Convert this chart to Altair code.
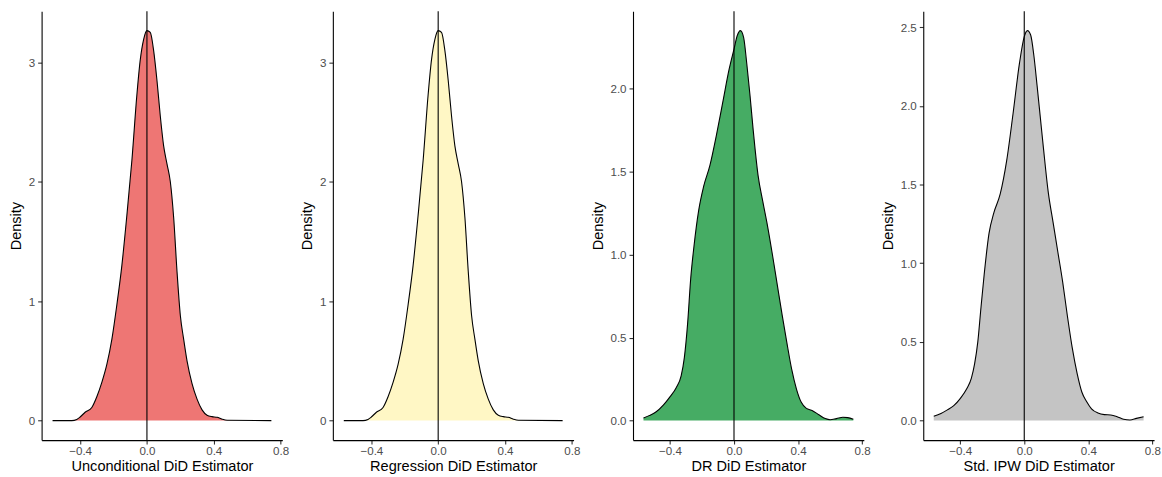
import altair as alt
import pandas as pd

# Kernel density estimates of each DiD estimator (x grid and density height)
unc_x = [-0.565, -0.45, -0.42, -0.40, -0.37, -0.33, -0.30, -0.27, -0.24, -0.21, -0.18,
         -0.15, -0.12, -0.09, -0.06, -0.04, -0.02, 0.00, 0.02, 0.04, 0.06, 0.08, 0.10,
         0.12, 0.14, 0.16, 0.18, 0.20, 0.22, 0.24, 0.27, 0.30, 0.33, 0.36, 0.39, 0.42,
         0.45, 0.48, 0.745]
unc_d = [0.0, 0.0, 0.01, 0.03, 0.07, 0.11, 0.20, 0.32, 0.47, 0.68, 0.97, 1.30, 1.72,
         2.18, 2.73, 3.02, 3.19, 3.265, 3.25, 3.10, 2.85, 2.55, 2.30, 2.15, 2.00, 1.70,
         1.25, 0.88, 0.68, 0.50, 0.31, 0.18, 0.09, 0.045, 0.033, 0.028, 0.012, 0.003, 0.0]

reg_x = [-0.565, -0.45, -0.42, -0.40, -0.37, -0.33, -0.30, -0.27, -0.24, -0.21, -0.18,
         -0.15, -0.12, -0.09, -0.06, -0.04, -0.02, 0.00, 0.02, 0.04, 0.06, 0.08, 0.10,
         0.12, 0.14, 0.16, 0.18, 0.20, 0.22, 0.24, 0.27, 0.30, 0.33, 0.36, 0.39, 0.42,
         0.45, 0.48, 0.745]
reg_d = [0.0, 0.0, 0.01, 0.03, 0.07, 0.11, 0.20, 0.32, 0.47, 0.68, 0.97, 1.30, 1.72,
         2.18, 2.73, 3.02, 3.19, 3.265, 3.25, 3.10, 2.85, 2.55, 2.30, 2.15, 2.00, 1.70,
         1.25, 0.88, 0.68, 0.50, 0.31, 0.18, 0.09, 0.045, 0.033, 0.028, 0.012, 0.003, 0.0]

dr_x = [-0.565, -0.53, -0.49, -0.44, -0.40, -0.36, -0.33, -0.31, -0.29, -0.27, -0.25,
        -0.22, -0.19, -0.15, -0.11, -0.07, -0.03, 0.00, 0.02, 0.04, 0.06, 0.08, 0.10,
        0.12, 0.15, 0.18, 0.21, 0.24, 0.27, 0.30, 0.33, 0.36, 0.39, 0.42, 0.45, 0.49,
        0.53, 0.57, 0.60, 0.64, 0.68, 0.71, 0.745]
dr_d = [0.015, 0.03, 0.05, 0.095, 0.143, 0.20, 0.27, 0.38, 0.58, 0.86, 1.05, 1.27, 1.41,
        1.54, 1.72, 1.92, 2.12, 2.24, 2.32, 2.351, 2.31, 2.15, 1.96, 1.75, 1.48, 1.32,
        1.17, 1.00, 0.82, 0.64, 0.47, 0.31, 0.19, 0.11, 0.075, 0.06, 0.035, 0.012, 0.005,
        0.012, 0.02, 0.018, 0.008]

ipw_x = [-0.565, -0.52, -0.48, -0.44, -0.40, -0.36, -0.33, -0.31, -0.29, -0.27, -0.25,
         -0.22, -0.19, -0.15, -0.11, -0.07, -0.03, 0.00, 0.02, 0.04, 0.06, 0.08, 0.10,
         0.12, 0.15, 0.18, 0.21, 0.24, 0.27, 0.30, 0.33, 0.36, 0.39, 0.42, 0.46, 0.50,
         0.54, 0.58, 0.62, 0.66, 0.70, 0.745]
ipw_d = [0.028, 0.045, 0.068, 0.095, 0.14, 0.20, 0.27, 0.36, 0.50, 0.72, 0.93, 1.19,
         1.32, 1.44, 1.65, 1.95, 2.27, 2.44, 2.478, 2.45, 2.32, 2.13, 1.93, 1.73, 1.45,
         1.26, 1.07, 0.88, 0.66, 0.46, 0.30, 0.18, 0.12, 0.075, 0.048, 0.038, 0.036,
         0.025, 0.008, 0.004, 0.014, 0.025]

titles = ["Unconditional DiD Estimator", "Regression DiD Estimator",
          "DR DiD Estimator", "Std. IPW DiD Estimator"]
fills = ["#EE7674", "#FFF7C5", "#46AC64", "#C4C4C4"]
x_ticks = [-0.4, 0.0, 0.4, 0.8]
y_ticks_int = [0, 1, 2, 3]
y_ticks_half = [0.0, 0.5, 1.0, 1.5, 2.0, 2.5]

MINUS = "replace(datum.label, '-', '\u2212')"


def panel(xs, ds, fill, title, yticks, yfmt, width):
    df = pd.DataFrame({"x": xs, "d": ds})
    # ggplot-style 5% expansion of the data range on both axes
    span = max(xs) - min(xs)
    xdom = [min(xs) - 0.05 * span, max(xs) + 0.05 * span]
    top = max(ds)
    ydom = [-0.05 * top, 1.05 * top]
    xenc = alt.X("x:Q", scale=alt.Scale(domain=xdom, nice=False, zero=False),
                 axis=alt.Axis(values=x_ticks, format=".1f", labelExpr=MINUS,
                               labelFlush=False, labelPadding=2,
                               title=title, titlePadding=1))
    yenc = alt.Y("d:Q", scale=alt.Scale(domain=ydom, nice=False, zero=False),
                 axis=alt.Axis(values=yticks, format=yfmt, title="Density",
                               labelPadding=3, titlePadding=5))
    base = alt.Chart(df)
    area = base.mark_area(color=fill, opacity=1, interpolate="monotone").encode(x=xenc, y=yenc)
    line = base.mark_line(color="black", strokeWidth=1.1, interpolate="monotone").encode(
        x="x:Q", y="d:Q")
    vline = alt.Chart(pd.DataFrame({"x": [0.0]})).mark_rule(
        color="black", strokeWidth=1.1).encode(x="x:Q")
    return alt.layer(area, line, vline).properties(width=width, height=433)


p1 = panel(unc_x, unc_d, fills[0], titles[0], y_ticks_int, "d", 243)
p2 = panel(reg_x, reg_d, fills[1], titles[1], y_ticks_int, "d", 243)
p3 = panel(dr_x, dr_d, fills[2], titles[2], y_ticks_half[:5], ".1f", 233)
p4 = panel(ipw_x, ipw_d, fills[3], titles[3], y_ticks_half, ".1f", 233)

left_pair = alt.hconcat(p1, p2, spacing=9)
chart = alt.hconcat(left_pair, p3, p4, spacing=9).properties(
    padding={"left": 7, "top": 7, "right": 1, "bottom": 1}
).configure_view(stroke="transparent").configure_axis(
    grid=False,
    domainColor="black", domainWidth=1.1,
    tickColor="#333333", tickWidth=1.1, tickSize=4,
    labelColor="#4D4D4D", labelFontSize=11.7, labelFont="Liberation Sans",
    titleColor="black", titleFontSize=14.7, titleFont="Liberation Sans",
    titleFontWeight="normal",
)

chart.save("out.html", embed_options={"renderer": "svg", "actions": False})
